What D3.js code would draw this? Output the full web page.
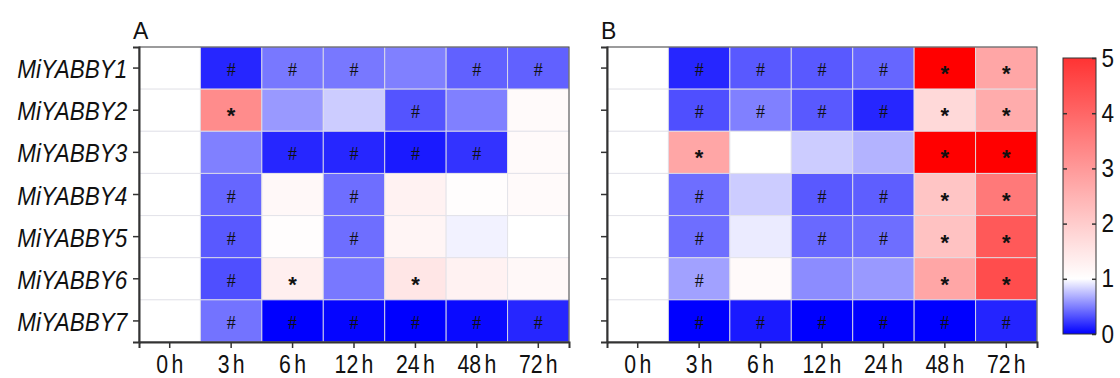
<!DOCTYPE html>
<html>
<head>
<meta charset="utf-8">
<script src="https://cdn.jsdelivr.net/npm/d3@7"></script>
<style>
  body { margin: 0; background: #fff; }
  svg { display: block; font-family: Arial, "Liberation Sans", sans-serif; }
</style>
</head>
<body>
<svg width="1120" height="378"></svg>
<script>
const svg = d3.select("svg");

// datos
const times = ["0 h", "3 h", "6 h", "12 h", "24 h", "48 h", "72 h"];
const genes = ["MiYABBY1", "MiYABBY2", "MiYABBY3", "MiYABBY4", "MiYABBY5", "MiYABBY6", "MiYABBY7"];

const valuesA = [
  [1, 0.15, 0.47, 0.47, 0.5, 0.38, 0.38],
  [1, 3.25, 0.6, 0.8, 0.33, 0.5, 1.09],
  [1, 0.5, 0.15, 0.15, 0.1, 0.2, 1.09],
  [1, 0.4, 1.13, 0.43, 1.25, 1.03, 1.09],
  [1, 0.35, 1.03, 0.43, 1.19, 0.95, 1.0],
  [1, 0.31, 1.31, 0.47, 1.5, 1.25, 1.13],
  [1, 0.45, 0.0, 0.02, 0.0, 0.04, 0.15]
];
const marksA = [
  ["", "#", "#", "#", "", "#", "#"],
  ["", "*", "", "", "#", "", ""],
  ["", "", "#", "#", "#", "#", ""],
  ["", "#", "", "#", "", "", ""],
  ["", "#", "", "#", "", "", ""],
  ["", "#", "*", "", "*", "", ""],
  ["", "#", "#", "#", "#", "#", "#"]
];

const valuesB = [
  [1, 0.15, 0.35, 0.35, 0.4, 6.25, 2.75],
  [1, 0.31, 0.5, 0.35, 0.15, 1.75, 2.63],
  [1, 2.75, 1.0, 0.8, 0.7, 6.6, 6.6],
  [1, 0.43, 0.8, 0.35, 0.37, 2.13, 3.63],
  [1, 0.43, 0.92, 0.41, 0.43, 2.19, 4.25],
  [1, 0.63, 1.09, 0.55, 0.6, 2.75, 4.5],
  [1, 0.0, 0.1, 0.0, 0.0, 0.0, 0.14]
];
const marksB = [
  ["", "#", "#", "#", "#", "*", "*"],
  ["", "#", "#", "#", "#", "*", "*"],
  ["", "*", "", "", "", "*", "*"],
  ["", "#", "", "#", "#", "*", "*"],
  ["", "#", "", "#", "#", "*", "*"],
  ["", "#", "", "", "", "*", "*"],
  ["", "#", "#", "#", "#", "#", "#"]
];

const legendTicks = [0, 1, 2, 3, 4, 5];

// escala: azul en 0, blanco en 1, rojo saturado por encima de la barra
const color = d3.scaleLinear()
  .domain([0, 1, 6])
  .range(["#0000ff", "#ffffff", "#ff0000"])
  .clamp(true);

const yTop = 47, yBottom = 342;

function dibujarPanel(x0, x1, values, marks, title, showLabels) {
  const x = d3.scaleBand().domain(times).range([x0, x1]);
  const y = d3.scaleBand().domain(genes).range([yTop, yBottom]);
  const g = svg.append("g");

  const cells = [];
  genes.forEach((gene, i) => times.forEach((t, j) => {
    cells.push({ gene, t, v: values[i][j], m: marks[i][j] });
  }));

  g.selectAll("rect.cell")
    .data(cells)
    .enter().append("rect")
    .attr("class", "cell")
    .attr("x", d => x(d.t))
    .attr("y", d => y(d.gene))
    .attr("width", x.bandwidth())
    .attr("height", y.bandwidth())
    .attr("fill", d => color(d.v))
    .attr("stroke", "rgba(225,225,232,0.85)")
    .attr("stroke-width", 1);

  // marcas de significancia
  g.selectAll("text.mark")
    .data(cells.filter(d => d.m !== ""))
    .enter().append("text")
    .attr("class", "mark")
    .attr("x", d => x(d.t) + x.bandwidth() / 2)
    .attr("y", d => y(d.gene) + y.bandwidth() / 2 + (d.m === "*" ? 13 : 8))
    .attr("text-anchor", "middle")
    .style("font-family", d => d.m === "*" ? "Arial, 'Liberation Sans'" : "'Liberation Serif', serif")
    .style("font-size", d => d.m === "*" ? "22px" : "18px")
    .style("font-weight", d => d.m === "*" ? "bold" : "normal")
    .style("fill", "#111")
    .text(d => d.m);

  // marco
  g.append("rect")
    .attr("x", x0).attr("y", yTop)
    .attr("width", x1 - x0).attr("height", yBottom - yTop)
    .attr("fill", "none").attr("stroke", "#444").attr("stroke-width", 1);

  const ax = g.append("g")
    .attr("transform", `translate(0,${yBottom})`)
    .call(d3.axisBottom(x).tickSize(6).tickPadding(7));
  ax.select(".domain").attr("stroke", "#333").attr("stroke-width", 2);
  ax.selectAll(".tick line").attr("stroke", "#333").attr("stroke-width", 1.5);
  ax.selectAll(".tick text")
    .style("font-size", "25px")
    .style("word-spacing", "-3px")
    .style("fill", "#111")
    .attr("transform", "scale(0.85,1)");

  const ay = g.append("g")
    .attr("transform", `translate(${x0},0)`)
    .call(d3.axisLeft(y).tickSize(6).tickPadding(7));
  ay.select(".domain").attr("stroke", "#333").attr("stroke-width", 2);
  ay.selectAll(".tick line").attr("stroke", "#333").attr("stroke-width", 1.5);
  if (showLabels) {
    ay.selectAll(".tick text")
      .style("font-size", "25px")
      .style("font-style", "italic")
      .style("fill", "#111")
      .attr("dy", "0.4em")
      .attr("transform", "scale(0.9,1)");
  } else {
    ay.selectAll(".tick text").remove();
  }

  svg.append("text")
    .attr("x", x0 - 6)
    .attr("y", 39)
    .style("font-size", "23px")
    .style("fill", "#111")
    .text(title);
}

dibujarPanel(139, 569, valuesA, marksA, "A", true);
dibujarPanel(607, 1037, valuesB, marksB, "B", false);

// barra de color
const cbX = 1063, cbW = 33;
const cy = d3.scaleLinear().domain([0, 5]).range([334, 58]);
const grad = svg.append("defs").append("linearGradient")
  .attr("id", "grad").attr("x1", 0).attr("y1", 1).attr("x2", 0).attr("y2", 0);
d3.range(0, 5.01, 0.25).forEach(v => {
  grad.append("stop").attr("offset", v / 5).attr("stop-color", color(v));
});
svg.append("rect")
  .attr("x", cbX).attr("y", cy(5))
  .attr("width", cbW).attr("height", cy(0) - cy(5))
  .attr("fill", "url(#grad)")
  .attr("stroke", "#333").attr("stroke-width", 1);

const cbAxis = svg.append("g")
  .attr("transform", `translate(${cbX + cbW},0)`)
  .call(d3.axisRight(cy).tickValues(legendTicks).tickFormat(d3.format("d")).tickSize(-4).tickPadding(6));
cbAxis.select(".domain").remove();
cbAxis.selectAll(".tick line").attr("stroke", "#333").attr("stroke-width", 1.5);
cbAxis.selectAll(".tick text")
  .style("font-size", "25px")
  .style("fill", "#111")
  .attr("transform", "scale(0.9,1)");

const cbAxisL = svg.append("g")
  .attr("transform", `translate(${cbX},0)`)
  .call(d3.axisLeft(cy).tickValues(legendTicks.slice(1, 5)).tickSize(-4).tickFormat(""));
cbAxisL.select(".domain").remove();
cbAxisL.selectAll(".tick line").attr("stroke", "#333").attr("stroke-width", 1.5);
</script>
</body>
</html>
